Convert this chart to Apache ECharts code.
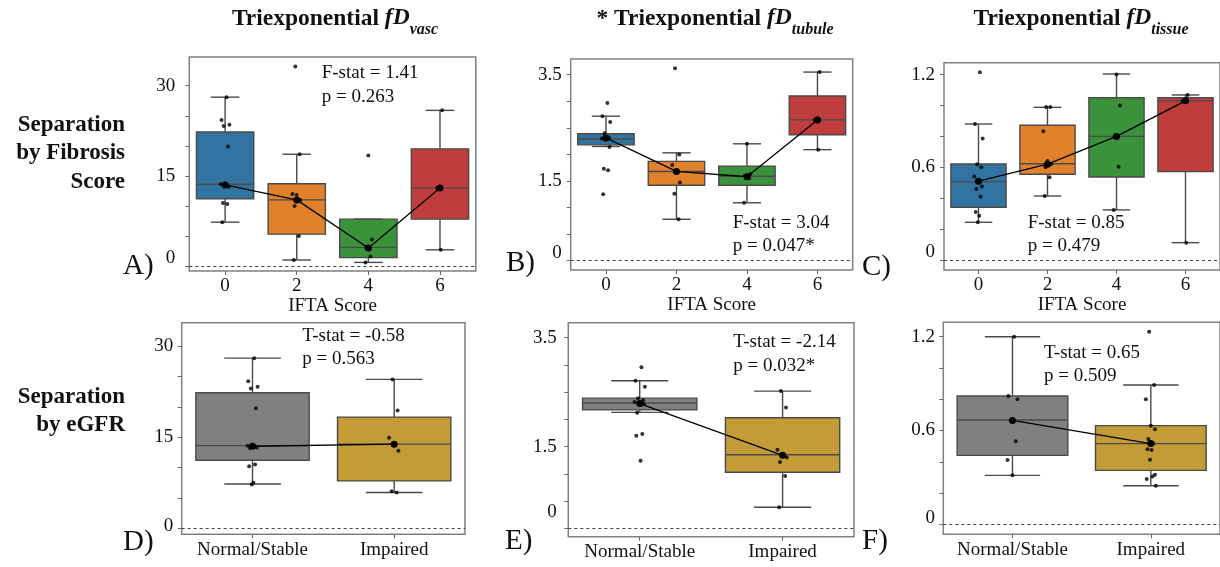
<!DOCTYPE html>
<html>
<head>
<meta charset="utf-8">
<script src="https://cdn.jsdelivr.net/npm/echarts@6/dist/echarts.min.js"></script>
<style>
  html, body { margin: 0; padding: 0; background: #fff; }
  #chart { width: 1220px; height: 567px; }
</style>
</head>
<body>
<div id="chart"></div>
<script>
const SERIF = '"Liberation Serif", "Times New Roman", "DejaVu Serif", serif';
const EDGE = '#4a4a4a';

// categories
const iftaScores = ['0', '2', '4', '6'];
const egfrGroups = ['Normal/Stable', 'Impaired'];
const iftaColors = ['#3274a1', '#e1812c', '#3a923a', '#c03d3e'];
const egfrColors = ['#808080', '#c39b37'];

// y ticks / tick labels
const vascTicks = [0, 5, 10, 15, 20, 25, 30];
const vascLabels = [0, 15, 30];
const tubuleTicks = [0, 0.5, 1, 1.5, 2, 2.5, 3, 3.5];
const tubuleLabels = [0, 1.5, 3.5];
const tissueTicks = [0, 0.2, 0.4, 0.6, 0.8, 1.0, 1.2];
const tissueLabels = [0, 0.6, 1.2];

// box stats per group: [low whisker, Q1, median, Q3, high whisker]
const vascIftaBoxes = [[7.3, 11.2, 13.6, 22.3, 28.1], [1.0, 5.3, 11.0, 13.7, 18.6], [0.6, 1.4, 3.1, 7.8, 7.8], [2.7, 7.8, 13.0, 19.5, 25.9]];
const tubuleIftaBoxes = [[2.15, 2.18, 2.29, 2.39, 2.72], [0.78, 1.42, 1.68, 1.87, 2.03], [1.09, 1.42, 1.59, 1.78, 2.20], [2.09, 2.37, 2.65, 3.10, 3.55]];
const tissueIftaBoxes = [[0.244, 0.341, 0.507, 0.621, 0.88], [0.414, 0.555, 0.623, 0.872, 0.988], [0.324, 0.537, 0.80, 1.05, 1.204], [0.112, 0.572, 1.03, 1.05, 1.068]];
const vascEgfrBoxes = [[7.3, 11.2, 13.6, 22.3, 28.0], [5.9, 7.8, 13.85, 18.3, 24.5]];
const tubuleEgfrBoxes = [[2.13, 2.175, 2.30, 2.39, 2.71], [0.386, 1.03, 1.35, 2.03, 2.52]];
const tissueEgfrBoxes = [[0.313, 0.441, 0.667, 0.821, 1.20], [0.247, 0.345, 0.516, 0.631, 0.891]];

// individual observations per group
const vascIftaPoints = [
  [28.1, 24.3, 23.5, 23.3, 19.9, 13.6, 13.3, 13.2, 10.5, 10.3, 7.3],
  [33.2, 18.6, 12.0, 11.8, 11.0, 10.0, 5.0, 1.0],
  [18.4, 4.4, 3.0, 1.6, 0.6],
  [25.9, 13.0, 2.7]
];
const tubuleIftaPoints = [
  [2.97, 2.72, 2.61, 2.40, 2.32, 2.30, 2.28, 2.14, 1.73, 1.70, 1.25],
  [3.62, 2.00, 1.80, 1.68, 1.47, 1.26, 0.78],
  [2.20, 1.63, 1.60, 1.55, 1.09],
  [3.55, 2.65, 2.09]
];
const tissueIftaPoints = [
  [1.215, 0.88, 0.787, 0.62, 0.60, 0.54, 0.507, 0.475, 0.46, 0.41, 0.31, 0.287, 0.244],
  [0.99, 0.99, 0.833, 0.64, 0.62, 0.60, 0.535, 0.414],
  [1.20, 1.00, 0.80, 0.604, 0.324],
  [1.068, 1.03, 0.112]
];
const vascEgfrPoints = [
  [28.0, 24.2, 23.3, 23.0, 19.75, 13.6, 13.5, 13.3, 13.2, 10.5, 10.2, 7.5, 7.2],
  [24.5, 19.4, 14.9, 13.85, 12.75, 6.1, 5.9]
];
const tubuleEgfrPoints = [
  [2.96, 2.71, 2.60, 2.39, 2.35, 2.32, 2.30, 2.28, 2.12, 1.73, 1.70, 1.24],
  [2.52, 2.22, 1.445, 1.33, 1.30, 1.22, 0.96, 0.386]
];
const tissueEgfrPoints = [
  [1.20, 0.82, 0.80, 0.664, 0.531, 0.411, 0.313],
  [1.232, 0.891, 0.80, 0.63, 0.608, 0.546, 0.516, 0.48, 0.475, 0.413, 0.317, 0.305, 0.29, 0.247]
];

// group centre values joined by the black line
const vascIftaTrend = [13.5, 11.0, 3.0, 13.0];
const tubuleIftaTrend = [2.31, 1.68, 1.58, 2.65];
const tissueIftaTrend = [0.51, 0.62, 0.80, 1.03];
const vascEgfrTrend = [13.5, 13.85];
const tubuleEgfrTrend = [2.29, 1.34];
const tissueEgfrTrend = [0.664, 0.516];

// stat annotations
const statTexts = [
  'F-stat = 1.41\np = 0.263', 'F-stat = 3.04\np = 0.047*', 'F-stat = 0.85\np = 0.479',
  'T-stat = -0.58\np = 0.563', 'T-stat = -2.14\np = 0.032*', 'T-stat = 0.65\np = 0.509'
];

// horizontal jitter pattern for strip points (fraction of a category)
const JITTER = [0.02, -0.05, 0.06, -0.02, 0.04, -0.06, 0.0, 0.05, -0.03, 0.03, -0.04, 0.01, -0.01, 0.05];

const panels = [
  { grid: { left: 189.3, top: 57, width: 286.5, height: 214 }, cats: iftaScores, fills: iftaColors,
    boxes: vascIftaBoxes, points: vascIftaPoints, trend: vascIftaTrend,
    yMin: -0.83, yMax: 34.78, ticks: vascTicks, labels: vascLabels, margin: 14, lift: 8, name: 'IFTA Score',
    jit: 1, stat: [321.7, 61.3], letter: ['A)', 123, 266] },
  { grid: { left: 570.7, top: 59, width: 282, height: 211 }, cats: iftaScores, fills: iftaColors,
    boxes: tubuleIftaBoxes, points: tubuleIftaPoints, trend: tubuleIftaTrend,
    yMin: -0.175, yMax: 3.796, ticks: tubuleTicks, labels: tubuleLabels, margin: 9, lift: 8, name: 'IFTA Score',
    jit: 1, stat: [732.7, 211.2], letter: ['B)', 506, 263] },
  { grid: { left: 944, top: 62.7, width: 276.5, height: 207.3 }, cats: iftaScores, fills: iftaColors,
    boxes: tissueIftaBoxes, points: tissueIftaPoints, trend: tissueIftaTrend,
    yMin: -0.065, yMax: 1.277, ticks: tissueTicks, labels: tissueLabels, margin: 9, lift: 8, name: 'IFTA Score',
    jit: 1, stat: [1027.7, 211.2], letter: ['C)', 862, 267] },
  { grid: { left: 181.7, top: 322.7, width: 283.3, height: 211.6 }, cats: egfrGroups, fills: egfrColors,
    boxes: vascEgfrBoxes, points: vascEgfrPoints, trend: vascEgfrTrend,
    yMin: -0.987, yMax: 33.83, ticks: vascTicks, labels: vascLabels, margin: 8.5, lift: 2, name: '',
    jit: 0.6, stat: [302.3, 324.2], letter: ['D)', 123, 542.5] },
  { grid: { left: 568.3, top: 322.7, width: 285.7, height: 214 }, cats: egfrGroups, fills: egfrColors,
    boxes: tubuleEgfrBoxes, points: tubuleEgfrPoints, trend: tubuleEgfrTrend,
    yMin: -0.154, yMax: 3.776, ticks: tubuleTicks, labels: tubuleLabels, margin: 11.5, lift: 16, name: '',
    jit: 0.6, stat: [733.3, 330.5], letter: ['E)', 505, 541] },
  { grid: { left: 943.3, top: 322.3, width: 284.6, height: 212 }, cats: egfrGroups, fills: egfrColors,
    boxes: tissueEgfrBoxes, points: tissueEgfrPoints, trend: tissueEgfrTrend,
    yMin: -0.064, yMax: 1.292, ticks: tissueTicks, labels: tissueLabels, margin: 8.3, lift: 6, name: '',
    jit: 0.6, stat: [1044, 340.9], letter: ['F)', 862, 541] }
];

function boxRenderer(fills) {
  return function (params, api) {
    const k = api.value(0);
    const lo = api.value(1), q1 = api.value(2), med = api.value(3), q3 = api.value(4), hi = api.value(5);
    const band = api.size([1, 0])[0];
    const half = band * 0.4, cap = band * 0.2;
    const cx = api.coord([k, med])[0];
    const py = v => api.coord([k, v])[1];
    const edge = { stroke: EDGE, lineWidth: 1.4 };
    return {
      type: 'group',
      children: [
        { type: 'line', shape: { x1: cx, y1: py(q1), x2: cx, y2: py(lo) }, style: edge },
        { type: 'line', shape: { x1: cx, y1: py(q3), x2: cx, y2: py(hi) }, style: edge },
        { type: 'line', shape: { x1: cx - cap, y1: py(lo), x2: cx + cap, y2: py(lo) }, style: edge },
        { type: 'line', shape: { x1: cx - cap, y1: py(hi), x2: cx + cap, y2: py(hi) }, style: edge },
        { type: 'rect', shape: { x: cx - half, y: py(q3), width: 2 * half, height: py(q1) - py(q3) },
          style: { fill: fills[params.dataIndex], stroke: EDGE, lineWidth: 1.4 } },
        { type: 'line', shape: { x1: cx - half, y1: py(med), x2: cx + half, y2: py(med) }, style: edge }
      ]
    };
  };
}

const grids = [], xAxes = [], yAxes = [], series = [], graphics = [];

panels.forEach((p, i) => {
  grids.push(Object.assign({ show: true, borderColor: '#808080', borderWidth: 1.5, containLabel: false }, p.grid));
  xAxes.push({
    gridIndex: i, type: 'category', data: p.cats, boundaryGap: true, position: 'bottom',
    axisLine: { show: false, onZero: false },
    axisTick: { show: true, alignWithLabel: true, length: 4, lineStyle: { color: '#666' } },
    axisLabel: { fontFamily: SERIF, fontSize: 19, color: '#111', margin: 6, interval: 0 },
    name: p.name, nameLocation: 'middle', nameGap: 24.5,
    nameTextStyle: { fontFamily: SERIF, fontSize: 19, color: '#111' }
  });
  xAxes.push({ gridIndex: i, type: 'value', min: -0.5, max: p.cats.length - 0.5, show: false,
    axisLine: { onZero: false } });
  yAxes.push({
    gridIndex: i, type: 'value', min: p.yMin, max: p.yMax, position: 'left',
    axisLine: { show: false, onZero: false }, splitLine: { show: false },
    axisTick: { show: true, length: 4, customValues: p.ticks, lineStyle: { color: '#666' } },
    axisLabel: {
      customValues: p.labels, fontFamily: SERIF, fontSize: 19, color: '#111', margin: p.margin,
      formatter: v => (v === 0 ? '{z|0}' : String(v)),
      rich: { z: { fontFamily: SERIF, fontSize: 19, color: '#111', padding: [0, 0, 2 * p.lift, 0] } }
    }
  });

  series.push({
    type: 'custom', xAxisIndex: 2 * i, yAxisIndex: i, z: 2,
    renderItem: boxRenderer(p.fills),
    encode: { x: 0, y: [1, 2, 3, 4, 5] },
    data: p.boxes.map((b, k) => [k].concat(b))
  });
  const pts = [];
  p.points.forEach((vals, k) => vals.forEach((v, j) => pts.push([k + JITTER[(j + k * 3) % JITTER.length] * p.jit, v])));
  series.push({
    type: 'scatter', xAxisIndex: 2 * i + 1, yAxisIndex: i, z: 3,
    symbolSize: 4, itemStyle: { color: '#000' }, data: pts
  });
  series.push({
    type: 'line', xAxisIndex: 2 * i, yAxisIndex: i, z: 4,
    data: p.trend, symbol: 'circle', symbolSize: 7, showSymbol: true,
    itemStyle: { color: '#000' }, lineStyle: { color: '#000', width: 1.3 },
    markLine: {
      silent: true, symbol: ['none', 'none'], label: { show: false },
      lineStyle: { type: [3, 3], color: '#444', width: 1 },
      data: [{ yAxis: 0 }]
    }
  });

  graphics.push({
    type: 'text', x: p.stat[0], y: p.stat[1], z: 10,
    style: { text: statTexts[i], font: '19px ' + SERIF, fill: '#111', lineHeight: 23.5, align: 'left', verticalAlign: 'top' }
  });
  graphics.push({
    type: 'text', x: p.letter[1], y: p.letter[2],
    style: { text: p.letter[0], font: '29px ' + SERIF, fill: '#111', align: 'left', verticalAlign: 'middle' }
  });
});

// column titles with italic subscripts
const titleRich = {
  a: { fontFamily: SERIF, fontSize: 23.5, fontWeight: 'bold', lineHeight: 31, verticalAlign: 'top', fill: '#111' },
  b: { fontFamily: SERIF, fontSize: 23.5, fontWeight: 'bold', fontStyle: 'italic', lineHeight: 31, verticalAlign: 'top', fill: '#111' },
  c: { fontFamily: SERIF, fontSize: 16, fontWeight: 'bold', fontStyle: 'italic', lineHeight: 15, verticalAlign: 'bottom', fill: '#111' }
};
[['{a|Triexponential }{b|fD}{c|vasc}', 335], ['{a|* Triexponential }{b|fD}{c|tubule}', 715], ['{a|Triexponential }{b|fD}{c|tissue}', 1081]]
  .forEach(t => graphics.push({
    type: 'text', x: t[1], y: 22,
    style: { text: t[0], rich: titleRich, align: 'center', verticalAlign: 'middle' }
  }));

// row labels
graphics.push({
  type: 'text', x: 125, y: 153.5,
  style: { text: 'Separation\nby Fibrosis\nScore', font: 'bold 23px ' + SERIF, fill: '#111', lineHeight: 28.5, align: 'right', verticalAlign: 'middle' }
});
graphics.push({
  type: 'text', x: 125, y: 411,
  style: { text: 'Separation\nby eGFR', font: 'bold 23px ' + SERIF, fill: '#111', lineHeight: 28.5, align: 'right', verticalAlign: 'middle' }
});

const chart = echarts.init(document.getElementById('chart'));
chart.setOption({
  animation: false,
  textStyle: { fontFamily: SERIF },
  grid: grids,
  xAxis: xAxes,
  yAxis: yAxes,
  series: series,
  graphic: graphics
});
</script>
</body>
</html>
